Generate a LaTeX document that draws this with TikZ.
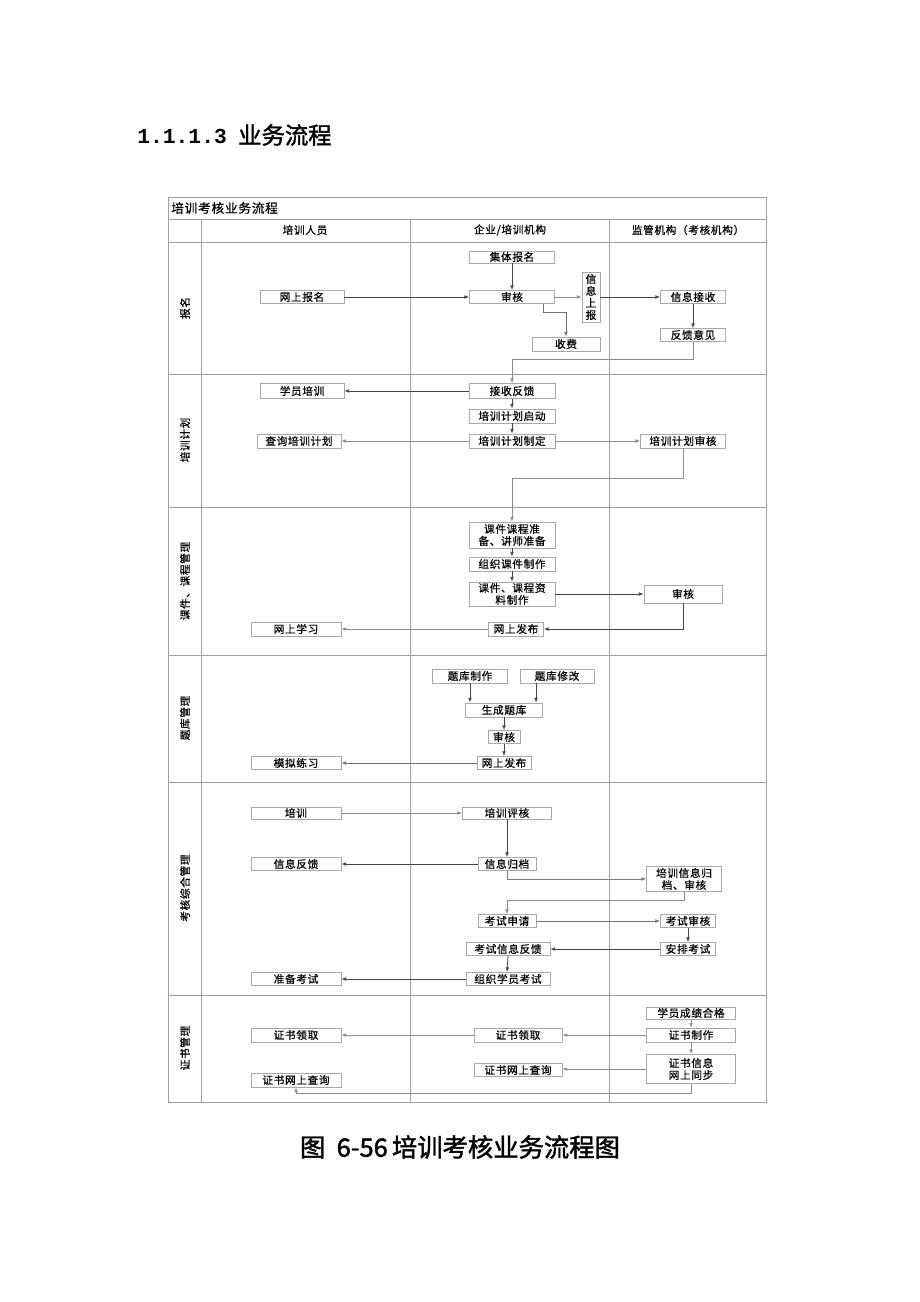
\documentclass[tikz,border=0pt]{standalone}
\usepackage{fontspec}
\newfontfamily\cjk[FakeBold=0.6,LetterSpace=6]{Noto Sans CJK SC}
\newfontfamily\cjkb[FakeBold=1.6]{Noto Sans CJK SC}
\newfontfamily\monof{Liberation Mono}
\usetikzlibrary{arrows.meta,calc}
\definecolor{tblc}{HTML}{A0A0A0}
\definecolor{tblp}{HTML}{A898AC}
\definecolor{tblg}{HTML}{90A890}
\definecolor{boxc}{HTML}{A8A8A8}
\definecolor{arrd}{HTML}{454545}
\definecolor{arrl}{HTML}{8C8C8C}
\definecolor{arrp}{HTML}{806C88}
\begin{document}
\begin{tikzpicture}[x=0.75pt,y=-0.75pt,
  bx/.style 2 args={draw=boxc, line width=0.5pt, fill=white, minimum width=#1*0.75pt, minimum height=#2*0.75pt, inner sep=0pt, font=\cjk\fontsize{8}{9}\selectfont, align=center},
  ar/.style={draw=arrd, line width=0.6pt, -{Latex[length=3.6pt,width=2.8pt]}},
  arl/.style={ar, draw=arrl},
  arp/.style={ar, draw=arrp},
  tbl/.style={draw=tblc, line width=0.5pt},
  hdr/.style={font=\cjk\fontsize{8}{9}\selectfont, inner sep=0pt},
  lane/.style={font=\cjk\fontsize{8}{9}\selectfont, inner sep=0pt, rotate=90},
]
\useasboundingbox (0,0) rectangle (920,1302);
\fill[white] (0,0) rectangle (920,1302);

% headings
\node[anchor=west, inner sep=0pt, font=\monof\bfseries\fontsize{16}{18}\selectfont] (hnum) at (137,136) {1.1.1.3};
\node[anchor=west, inner sep=0pt, font=\cjkb\fontsize{17.5}{19}\selectfont] (htxt) at (238,135) {业务流程};
\node[inner sep=0pt, font=\cjkb\fontsize{19}{21}\selectfont] (cap) at (460,1147) {图\ \ 6-56\,培训考核业务流程图};

% table
\draw[tbl] (168,197) rectangle (766,1102);
\draw[tbl] (168,219) -- (766,219);
\draw[tbl] (168,242) -- (766,242);
\draw[tbl] (168,374) -- (766,374);
\draw[tbl] (168,507) -- (766,507);
\draw[tbl, draw=tblp] (168,655) -- (766,655);
\draw[tbl, draw=tblg] (168,782) -- (766,782);
\draw[tbl, draw=tblg] (168,995) -- (766,995);
\draw[tbl] (201,219) -- (201,1102);
\draw[tbl] (410,219) -- (410,1102);
\draw[tbl] (609,219) -- (609,1102);

\node[anchor=west, inner sep=0pt, font=\cjk\fontsize{9.5}{11}\selectfont] (ttl) at (171,208) {培训考核业务流程};
\node[hdr] (h1) at (305,230) {培训人员};
\node[hdr] (h2) at (510,230) {企业/培训机构};
\node[hdr] (h3) at (688,230) {监管机构（考核机构）};

\node[lane] (l1) at (185,308) {报名};
\node[lane] (l2) at (185,440) {培训计划};
\node[lane] (l3) at (185,581) {课件、课程管理};
\node[lane] (l4) at (185,718) {题库管理};
\node[lane] (l5) at (185,888) {考核综合管理};
\node[lane] (l6) at (185,1048) {证书管理};

% row 1: 报名
\node[bx={85}{12}] (jtbm) at (512,257) {集体报名};
\node[bx={84}{13}] (wsbm) at (302,297) {网上报名};
\node[bx={85}{13}] (sh1) at (512,297) {审核};
\node[bx={18}{50}] (xxsb) at (591,297) {信\\息\\上\\报};
\node[bx={65}{13}] (xxjs) at (693,297) {信息接收};
\node[bx={65}{13}] (fkyj) at (693,335) {反馈意见};
\node[bx={68}{14}] (sf) at (566,344) {收费};

\draw[ar] (jtbm.south) -- (sh1.north);
\draw[ar] (wsbm.east) -- (sh1.west);
\draw[arl] (sh1.east) -- (xxsb.west);
\draw[ar, draw=arrl!80!black] ($(sh1.south)+(31,0)$) -- ++(0,9) -| (sf.north);
\draw[ar] (xxsb.east) -- (xxjs.west);
\draw[ar] (xxjs.south) -- (fkyj.north);

% row 2: 培训计划
\node[bx={84}{15}] (xypx) at (302,391) {学员培训};
\node[bx={86}{15}] (jsfk) at (512,391) {接收反馈};
\node[bx={86}{14}] (qd) at (512,416) {培训计划启动};
\node[bx={86}{14}] (zd) at (512,441) {培训计划制定};
\node[bx={84}{14}] (cx) at (299,441) {查询培训计划};
\node[bx={85}{14}] (pxsh) at (683,441) {培训计划审核};

\draw[arl] (fkyj.south) -- ++(0,18) -| (jsfk.north);
\draw[ar] (jsfk.west) -- (xypx.east);
\draw[ar] (jsfk.south) -- (qd.north);
\draw[ar] (qd.south) -- (zd.north);
\draw[arl] (zd.west) -- (cx.east);
\draw[arl] (zd.east) -- (pxsh.west);

% row 3: 课件、课程管理
\node[bx={86}{26}] (kjzb) at (512,535) {课件课程准\\备、讲师准备};
\node[bx={86}{14}] (zzkj) at (512,564) {组织课件制作};
\node[bx={86}{24}] (kjzl) at (512,594) {课件、课程资\\料制作};
\node[bx={78}{18}] (sh2) at (683,594) {审核};
\node[bx={55}{14}] (wsfb1) at (516,629) {网上发布};
\node[bx={90}{14}] (wsxx) at (296,629) {网上学习};

\draw[arl] (pxsh.south) -- ++(0,30) -| (kjzb.north);
\draw[ar] (kjzb.south) -- (zzkj.north);
\draw[ar] (zzkj.south) -- (kjzl.north);
\draw[ar] (kjzl.east) -- (sh2.west);
\draw[ar] (sh2.south) |- (wsfb1.east);
\draw[arl] (wsfb1.west) -- (wsxx.east);

% row 4: 题库管理
\node[bx={75}{14}] (tkzz) at (470,676) {题库制作};
\node[bx={74}{14}] (tkxg) at (557,676) {题库修改};
\node[bx={77}{14}] (sctk) at (504,710) {生成题库};
\node[bx={32}{13}] (sh3) at (504,737) {审核};
\node[bx={54}{13}] (wsfb2) at (504,763) {网上发布};
\node[bx={90}{13}] (mnlx) at (296,763) {模拟练习};

\draw[ar] (tkzz.south) -- (tkzz.south |- sctk.north);
\draw[ar] ($(tkxg.south)+(-21,0)$) -- ($(tkxg.south |- sctk.north)+(-21,0)$);
\draw[ar] (sctk.south) -- (sh3.north);
\draw[ar] (sh3.south) -- (wsfb2.north);
\draw[ar, draw=arrl!80!black] (wsfb2.west) -- (mnlx.east);

% row 5: 考核综合管理
\node[bx={90}{12}] (px) at (296,813) {培训};
\node[bx={89}{12}] (pxpk) at (507,813) {培训评核};
\node[bx={90}{13}] (xxfk) at (296,864) {信息反馈};
\node[bx={58}{13}] (xxgd) at (507,864) {信息归档};
\node[bx={75}{25}] (pxgd) at (684,879) {培训信息归\\档、审核};
\node[bx={58}{13}] (kssq) at (507,921) {考试申请};
\node[bx={55}{13}] (kssh) at (688,921) {考试审核};
\node[bx={55}{13}] (apks) at (688,949) {安排考试};
\node[bx={84}{13}] (ksfk) at (508,949) {考试信息反馈};
\node[bx={84}{13}] (zzks) at (508,979) {组织学员考试};
\node[bx={90}{13}] (bkks) at (296,979) {准备考试};

\draw[arl] (px.east) -- (pxpk.west);
\draw[ar] (pxpk.south) -- (xxgd.north);
\draw[ar] (xxgd.west) -- (xxfk.east);
\draw[arp, draw=arrp!60!arrl] (xxgd.south) |- (pxgd.west);
\draw[arl] (pxgd.south) -- ++(0,9) -| (kssq.north);
\draw[arp] (kssq.east) -- (kssh.west);
\draw[ar] (kssh.south) -- (apks.north);
\draw[ar] (apks.west) -- (ksfk.east);
\draw[ar] (ksfk.south) -- ($(zzks.north)+(-1,0)$);
\draw[ar] (zzks.west) -- (bkks.east);

% row 6: 证书管理
\node[bx={89}{12}] (cjhg) at (691,1013) {学员成绩合格};
\node[bx={89}{14}] (zszz) at (691,1035) {证书制作};
\node[bx={88}{14}] (zslq2) at (518,1035) {证书领取};
\node[bx={90}{14}] (zslq1) at (296,1035) {证书领取};
\node[bx={89}{29}] (zsxx) at (691,1069) {证书信息\\网上同步};
\node[bx={88}{13}] (zscx2) at (518,1070) {证书网上查询};
\node[bx={90}{14}] (zscx1) at (296,1080) {证书网上查询};

\draw[arl] (cjhg.south) -- (zszz.north);
\draw[arl] (zszz.west) -- (zslq2.east);
\draw[arl] (zslq2.west) -- (zslq1.east);
\draw[arl] (zszz.south) -- (zsxx.north);
\draw[arl] (zsxx.west) -- (zsxx.west -| zscx2.east);
\draw[arl] (zsxx.south) -- ++(0,10) -| (zscx1.south);
\end{tikzpicture}
\end{document}
